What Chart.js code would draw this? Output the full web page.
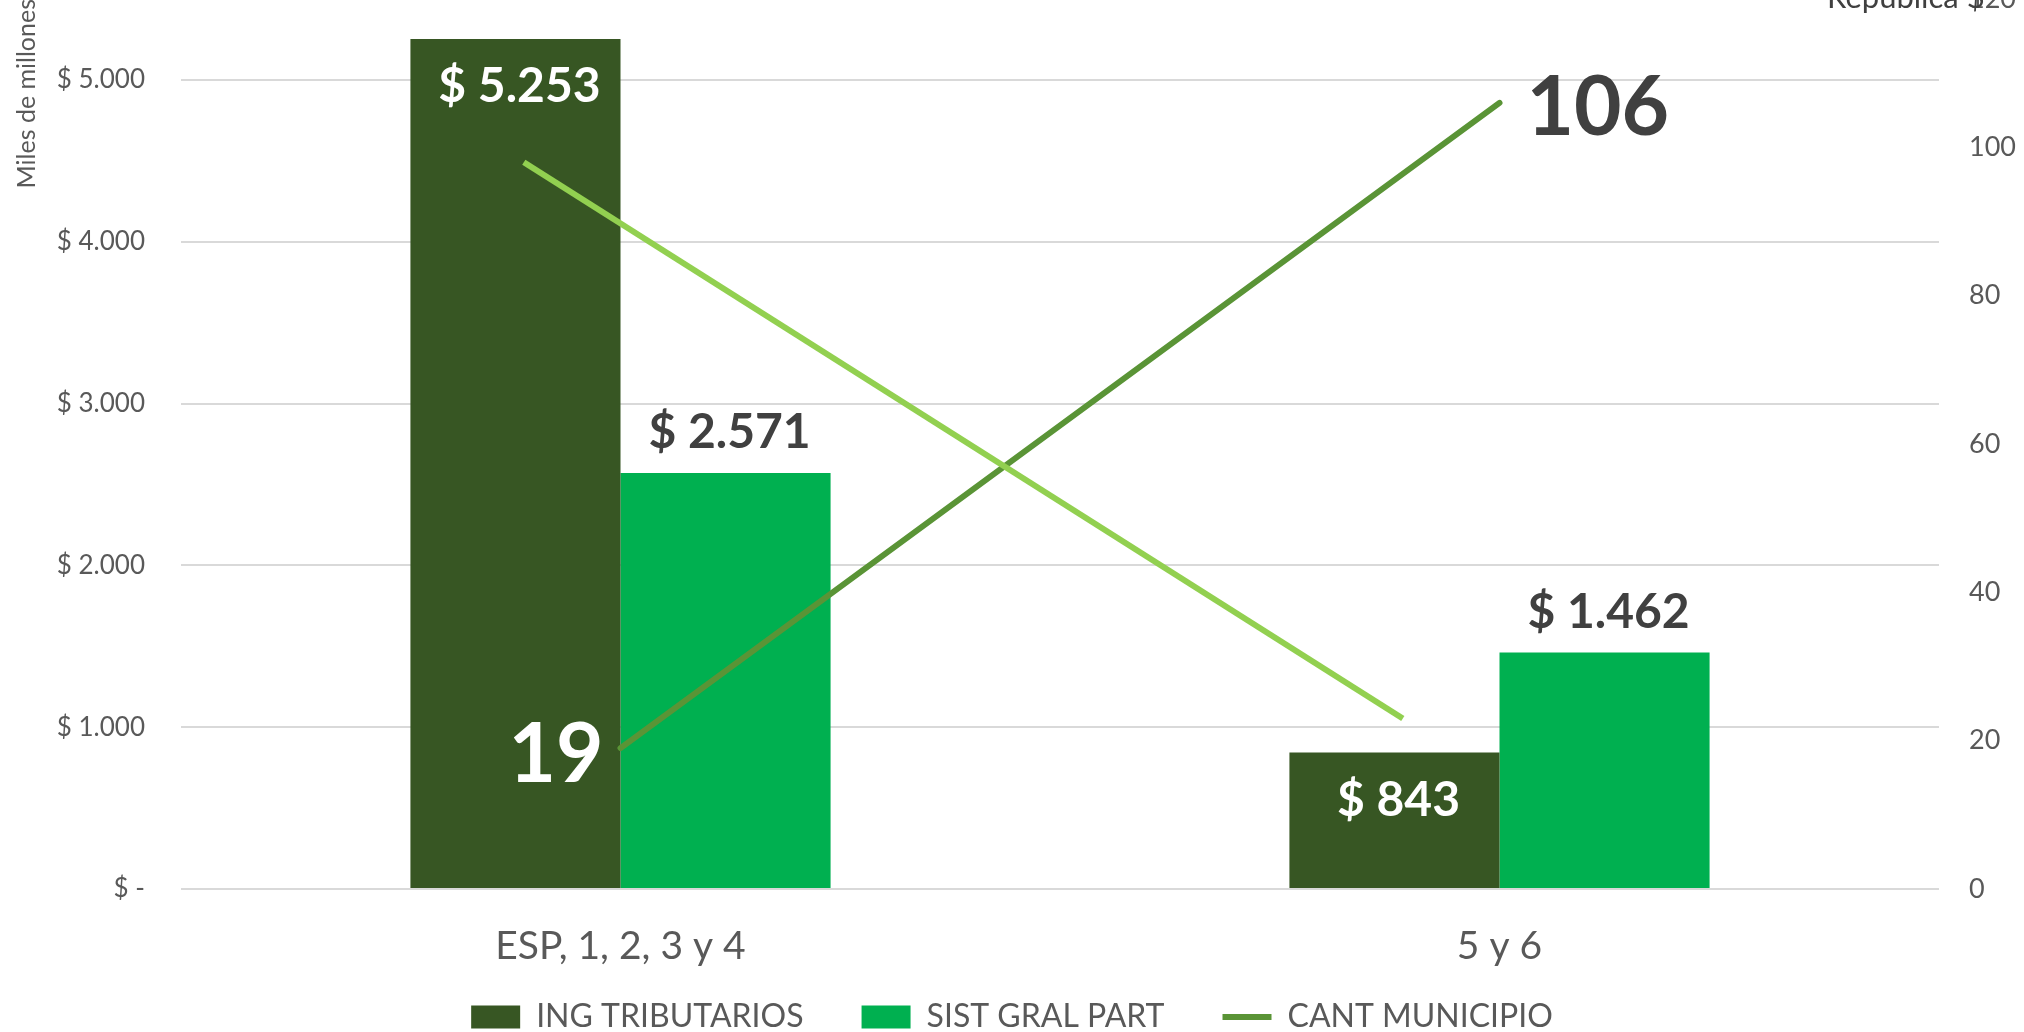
<!DOCTYPE html>
<html lang="es">
<head>
<meta charset="utf-8">
<title>Ingresos por categoría de municipio</title>
<script src="https://cdn.jsdelivr.net/npm/chart.js@4.4.1/dist/chart.umd.min.js"></script>
<style>
  html, body { margin: 0; padding: 0; background: #fff; overflow: hidden; }
  #marco { position: relative; width: 2024px; height: 1032px; overflow: hidden; }
  /* el gráfico original viene recortado arriba: se corre el canvas hacia arriba */
  #grafico { position: absolute; left: 0; top: -60px; }
</style>
</head>
<body>
<div id="marco"><canvas id="grafico" width="2024" height="1137"></canvas></div>
<script>
// Datos del gráfico
const categorias = ['ESP, 1, 2, 3 y 4', '5 y 6'];
const ingTributarios = [5253, 843];      // miles de millones
const sistGralPart = [2571, 1462];       // miles de millones
const cantMunicipio = [19, 106];         // eje derecho
// línea verde clara (sin leyenda), eje derecho
const lineaClaraX = [0.39, 1.39];
const lineaClaraY = [98, 23];
// marcas de los ejes
const ticksPesos = [0, 1000, 2000, 3000, 4000, 5000];
const ticksMunicipios = [0, 20, 40, 60, 80, 100, 120];

// cada categoría ocupa una unidad del eje x, con su centro en i + 0.5
const posCategoria = categorias.map((c, i) => i + 0.5);
const puntos = (xs, ys) => xs.map((x, i) => ({ x: x, y: ys[i] }));

const FUENTE = 'Lato';
Chart.defaults.font.family = FUENTE;

// formato de pesos con punto de miles
function miles(v) {
    return String(v).replace(/\B(?=(\d{3})+(?!\d))/g, '.');
}
function pesos(v) {
    return v === 0 ? '$ -' : '$ ' + miles(v);
}

// dibuja un texto centrado verticalmente en cy (centro de los dígitos)
function texto(ctx, t, x, cy, color, size, align) {
    ctx.font = 'bold ' + size + 'px ' + FUENTE;
    ctx.fillStyle = color;
    ctx.textAlign = align;
    ctx.textBaseline = 'alphabetic';
    ctx.fillText(t, x, cy + size * 0.36);
}

// Plugin para las etiquetas de datos
const etiquetas = {
    id: 'etiquetas',
    afterLayout(chart) {
        // la leyenda va más pegada a las etiquetas del eje x
        chart.legend.top -= 34;
        chart.legend.bottom -= 34;
    },
    afterDatasetsDraw(chart) {
        const ctx = chart.ctx;
        ctx.save();
        // ING TRIBUTARIOS: dentro de la barra, en blanco
        chart.getDatasetMeta(0).data.forEach((barra, i) => {
            texto(ctx, pesos(ingTributarios[i]), barra.x + 4, barra.y + 46, '#FFFFFF', 48, 'center');
        });
        // SIST GRAL PART: encima de la barra
        chart.getDatasetMeta(1).data.forEach((barra, i) => {
            texto(ctx, pesos(sistGralPart[i]), barra.x + 4, barra.y - 42, '#404040', 48, 'center');
        });
        // CANT MUNICIPIO
        const pts = chart.getDatasetMeta(2).data;
        texto(ctx, String(cantMunicipio[0]), pts[0].x - 17, pts[0].y + 4, '#FFFFFF', 82, 'right');
        texto(ctx, String(cantMunicipio[1]), pts[1].x + 27, pts[1].y + 3, '#404040', 82, 'left');
        ctx.restore();
    },
    afterDraw(chart) {
        // texto recortado arriba a la derecha
        const ctx = chart.ctx;
        ctx.save();
        ctx.font = '31px ' + FUENTE;
        ctx.fillStyle = '#404040';
        ctx.textAlign = 'left';
        ctx.textBaseline = 'alphabetic';
        ctx.fillText('República $', 1827, 68);
        ctx.restore();
    }
};

const ctx = document.getElementById('grafico').getContext('2d');
new Chart(ctx, {
    type: 'bar',
    data: {
        datasets: [
            {
                type: 'bar',
                label: 'ING TRIBUTARIOS',
                data: puntos(posCategoria, ingTributarios),
                backgroundColor: '#375623',
                pointStyle: 'rect',
                categoryPercentage: 0.478,
                barPercentage: 1.0,
                yAxisID: 'y',
                order: 2
            },
            {
                type: 'bar',
                label: 'SIST GRAL PART',
                data: puntos(posCategoria, sistGralPart),
                backgroundColor: '#00B050',
                pointStyle: 'rect',
                categoryPercentage: 0.478,
                barPercentage: 1.0,
                yAxisID: 'y',
                order: 2
            },
            {
                type: 'line',
                label: 'CANT MUNICIPIO',
                data: puntos(posCategoria, cantMunicipio),
                borderColor: '#5A9436',
                backgroundColor: '#5A9436',
                borderWidth: 6,
                borderCapStyle: 'round',
                pointRadius: 0,
                pointStyle: 'line',
                yAxisID: 'y1',
                order: 1
            },
            {
                type: 'line',
                label: 'Tendencia',
                data: puntos(lineaClaraX, lineaClaraY),
                borderColor: '#92D050',
                backgroundColor: '#92D050',
                borderWidth: 6,
                pointRadius: 0,
                yAxisID: 'y1',
                order: 0
            }
        ]
    },
    options: {
        responsive: false,
        animation: false,
        layout: { padding: { top: 59, left: 0, right: 0, bottom: 0 } },
        scales: {
            x: {
                type: 'linear',
                min: 0,
                max: categorias.length,
                offset: false,
                afterBuildTicks: s => { s.ticks = posCategoria.map(v => ({ value: v })); },
                afterFit: s => { s.height = 88; },
                grid: { display: false },
                border: { display: false },
                ticks: {
                    font: { size: 39 },
                    color: '#595959',
                    padding: 26,
                    callback: v => categorias[Math.round(v - 0.5)]
                }
            },
            y: {
                position: 'left',
                min: 0,
                max: 5500,
                afterBuildTicks: s => { s.ticks = ticksPesos.map(v => ({ value: v })); },
                afterFit: s => { s.width = 181; },
                ticks: {
                    padding: 36,
                    color: '#595959',
                    font: { size: 26 },
                    callback: v => pesos(v)
                },
                grid: { color: '#D9D9D9', lineWidth: 2, drawTicks: false },
                border: { display: false },
                title: {
                    display: true,
                    text: 'Miles de millones',
                    align: 'end',
                    color: '#595959',
                    font: { size: 25 },
                    padding: { top: 12, bottom: 0 }
                }
            },
            y1: {
                position: 'right',
                min: 0,
                max: 120,
                afterBuildTicks: s => { s.ticks = ticksMunicipios.map(v => ({ value: v })); },
                afterFit: s => { s.width = 85; },
                ticks: { padding: 30, color: '#595959', font: { size: 27 } },
                grid: { display: false, drawTicks: false },
                border: { display: false }
            }
        },
        plugins: {
            tooltip: { enabled: false },
            legend: {
                position: 'bottom',
                labels: {
                    usePointStyle: true,
                    pointStyleWidth: 49,
                    boxHeight: 23,
                    padding: 58,
                    color: '#595959',
                    font: { size: 32 },
                    filter: item => item.text !== 'Tendencia',
                    sort: (a, b) => a.datasetIndex - b.datasetIndex
                }
            }
        }
    },
    plugins: [etiquetas]
});
</script>
</body>
</html>
